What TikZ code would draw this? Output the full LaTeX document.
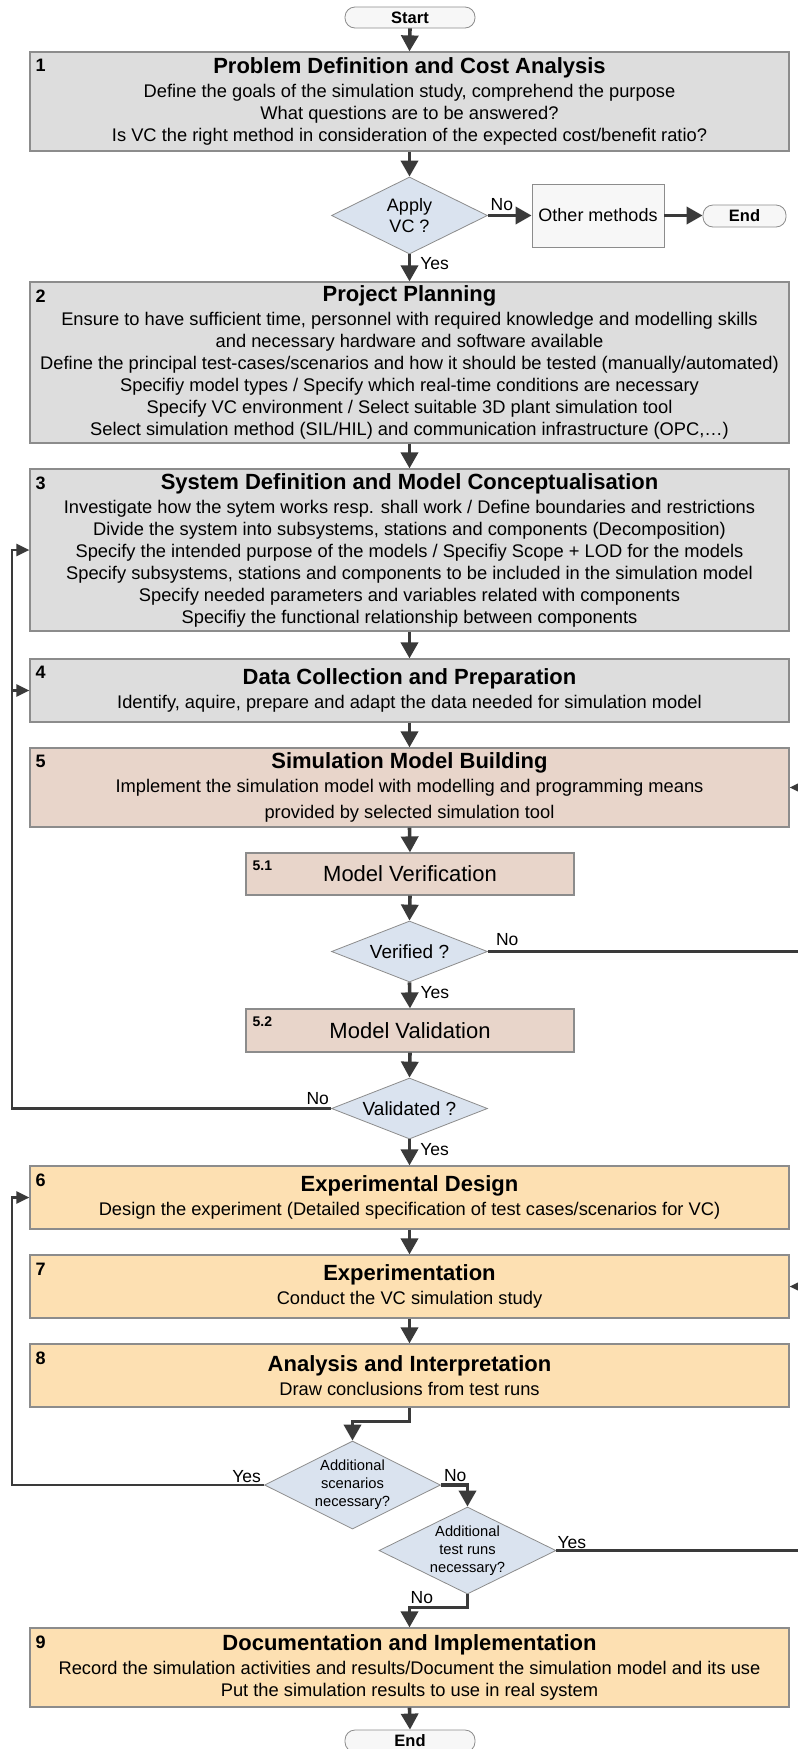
\documentclass[tikz,border=0pt]{standalone}
\usepackage{fontspec}
\setmainfont{Liberation Sans}
\usetikzlibrary{shapes.geometric,arrows.meta}

\definecolor{greybox}{HTML}{DDDDDD}
\definecolor{rosebox}{HTML}{E8D5CA}
\definecolor{sandbox}{HTML}{FDE0B2}
\definecolor{decbox}{HTML}{DAE3EF}
\definecolor{termbox}{HTML}{F7F7F7}
\definecolor{edge}{HTML}{8C8C8C}
\definecolor{flow}{HTML}{3A3A3A}

\newcommand\phtitle[1]{{\fontsize{22}{25}\selectfont\bfseries #1}\\[2pt]}

\tikzset{
  phase/.style={draw=edge, line width=1.2pt, minimum width=759pt, inner sep=1pt,
    align=center, font=\fontsize{18.3}{22}\selectfont},
  subphase/.style={draw=edge, line width=1.2pt, fill=rosebox, minimum width=328pt,
    minimum height=42pt, font=\fontsize{22}{26}\selectfont},
  decision/.style={diamond, draw=edge, line width=0.8pt, fill=decbox, inner sep=-5pt, align=center},
  terminal/.style={draw=edge, line width=0.8pt, fill=termbox, rounded corners=10pt,
    minimum width=130pt, minimum height=21pt, inner sep=0pt, font=\fontsize{16.5}{18}\selectfont\bfseries},
  stepno/.style={anchor=north west, inner sep=0pt, font=\fontsize{18}{20}\selectfont\bfseries},
  flowarrow/.style={draw=flow, line width=3.6pt, -{Triangle[length=16pt,width=17pt]}},
  loopback/.style={draw=flow, line width=2.4pt, -{Triangle[length=13pt,width=12pt]}},
  answer/.style={inner sep=0pt, font=\fontsize{17.5}{20}\selectfont},
}

\begin{document}
\begin{tikzpicture}[x=1pt,y=-1pt]
\useasboundingbox[fill=white] (0,0) rectangle (798,1749);
\coordinate (lx) at (12,0);
\coordinate (rx) at (801,0);

% main phases
\node[terminal] (start) at (410,17.5) {Start};
\node[phase, fill=greybox, minimum height=99pt] (p1) at (409.5,101.5) {\phtitle{Problem Definition and Cost Analysis}
  Define the goals of the simulation study, comprehend the purpose\\
  What questions are to be answered?\\
  Is VC the right method in consideration of the expected cost/benefit ratio?};
\node[decision, aspect=2.03, minimum width=156pt, minimum height=77pt, font=\fontsize{18}{21}\selectfont] (dvc) at (409.5,215.5) {Apply\\VC ?};
\node[draw=edge, line width=0.8pt, fill=termbox, minimum width=132pt, minimum height=63pt,
  font=\fontsize{18}{21}\selectfont] (other) at (598,215.5) {Other methods};
\node[terminal, minimum width=83pt, minimum height=22pt] (endA) at (744.5,216) {End};
\node[phase, fill=greybox, minimum height=161pt] (p2) at (409.5,362.5) {\phtitle{Project Planning}
  Ensure to have sufficient time, personnel with required knowledge and modelling skills\\
  and necessary hardware and software available\\
  Define the principal test-cases/scenarios and how it should be tested (manually/automated)\\
  Specifiy model types / Specify which real-time conditions are necessary\\
  Specify VC environment / Select suitable 3D plant simulation tool\\
  Select simulation method (SIL/HIL) and communication infrastructure (OPC,\dots)};
\node[phase, fill=greybox, minimum height=162pt] (p3) at (409.5,550) {\phtitle{System Definition and Model Conceptualisation}
  Investigate how the sytem works resp. shall work / Define boundaries and restrictions\\
  Divide the system into subsystems, stations and components (Decomposition)\\
  Specify the intended purpose of the models / Specifiy Scope + LOD for the models\\
  Specify subsystems, stations and components to be included in the simulation model\\
  Specify needed parameters and variables related with components\\
  Specifiy the functional relationship between components};
\node[phase, fill=greybox, minimum height=63pt] (p4) at (409.5,690.5) {\phtitle{Data Collection and Preparation}
  Identify, aquire, prepare and adapt the data needed for simulation model};
\node[phase, fill=rosebox, minimum height=79pt] (p5) at (409.5,787.5) {\phtitle{Simulation Model Building}
  Implement the simulation model with modelling and programming means\\[4pt]
  provided by selected simulation tool};
\node[subphase] (s51) at (410,874) {Model Verification};
\node[decision, aspect=2.56, minimum width=156pt, minimum height=61pt, font=\fontsize{19}{22}\selectfont] (dver) at (409.5,951.5) {Verified ?};
\node[subphase, minimum height=43pt] (s52) at (410,1030.5) {Model Validation};
\node[decision, aspect=2.56, minimum width=156pt, minimum height=61pt, font=\fontsize{19}{22}\selectfont] (dval) at (409.5,1108.5) {Validated ?};
\node[phase, fill=sandbox, minimum height=63pt] (p6) at (409.5,1197.5) {\phtitle{Experimental Design}
  Design the experiment (Detailed specification of test cases/scenarios for VC)};
\node[phase, fill=sandbox, minimum height=63pt] (p7) at (409.5,1286.5) {\phtitle{Experimentation}
  Conduct the VC simulation study};
\node[phase, fill=sandbox, minimum height=63pt] (p8) at (409.5,1375.5) {\phtitle{Analysis and Interpretation}
  Draw conclusions from test runs};
\node[decision, aspect=2, minimum width=176pt, minimum height=88pt, font=\fontsize{14.7}{18}\selectfont] (dsc) at (352.5,1485) {Additional\\scenarios\\necessary?};
\node[decision, aspect=2, minimum width=177pt, minimum height=87pt, font=\fontsize{14.7}{18}\selectfont] (dtr) at (467.5,1550.5) {Additional\\test runs\\necessary?};
\node[phase, fill=sandbox, minimum height=79pt] (p9) at (409.5,1667.5) {\phtitle{Documentation and Implementation}
  Record the simulation activities and results/Document the simulation model and its use\\
  Put the simulation results to use in real system};
\node[terminal, minimum height=22pt] (endB) at (410,1741) {End};

% step numbers
\foreach \n in {1,...,9}
  \node[stepno] at ([xshift=6pt,yshift=-8pt]p\n.north west) {\n};
\foreach \s/\t in {s51/5.1, s52/5.2}
  \node[stepno, font=\fontsize{14}{16}\selectfont\bfseries] at ([xshift=7pt,yshift=-8pt]\s.north west) {\t};

% straight flow
\foreach \a/\b in {start/p1, p1/dvc, p2/p3, p3/p4, p4/p5, p5/s51, s51/dver, s52/dval, p6/p7, p7/p8, p9/endB}
  \draw[flowarrow] (\a.south) -- (\b.north);
\draw[flowarrow] (dvc.south) -- node[answer, anchor=west, xshift=9pt, pos=0.35] {Yes} (p2.north);
\draw[flowarrow] (dver.south) -- node[answer, anchor=west, xshift=9pt, pos=0.4] {Yes} (s52.north);
\draw[flowarrow] (dval.south) -- node[answer, anchor=west, xshift=9pt, pos=0.4] {Yes} (p6.north);
\draw[flowarrow] (dvc.east) -- node[answer, anchor=south, pos=0.32, yshift=3pt] {No} (other.west);
\draw[flowarrow] (other.east) -- (other.east -| endA.west);
\draw[flowarrow] (p8.south) -- ++(0,14) -| (dsc.north);
\draw[flowarrow] (dsc.east) -| (dtr.north);
\draw[flowarrow] (dtr.south) -- ++(0,13) -| (p9.north);
\node[answer, anchor=south west] at ([xshift=3pt,yshift=3pt]dsc.east) {No};
\node[answer, anchor=south west] at ([xshift=1pt,yshift=24pt]p9.north) {No};

% loops back
\draw[loopback] (dval.west) -- (dval.west -| lx) |- (p3.west);
\draw[loopback] (lx |- p4.west) -- (p4.west);
\node[answer, anchor=south east] at ([xshift=-2pt,yshift=4pt]dval.west) {No};
\draw[loopback] (dver.east) -- (dver.east -| rx) |- (p5.east);
\node[answer, anchor=south west] at ([xshift=8pt,yshift=6pt]dver.east) {No};
\draw[loopback] (dsc.west) -- (dsc.west -| lx) |- (p6.west);
\node[answer, anchor=south east] at ([xshift=-3pt,yshift=2pt]dsc.west) {Yes};
\draw[loopback] (dtr.east) -- (dtr.east -| rx) |- (p7.east);
\node[answer, anchor=south west] at ([xshift=1pt,yshift=2pt]dtr.east) {Yes};
\end{tikzpicture}
\end{document}
